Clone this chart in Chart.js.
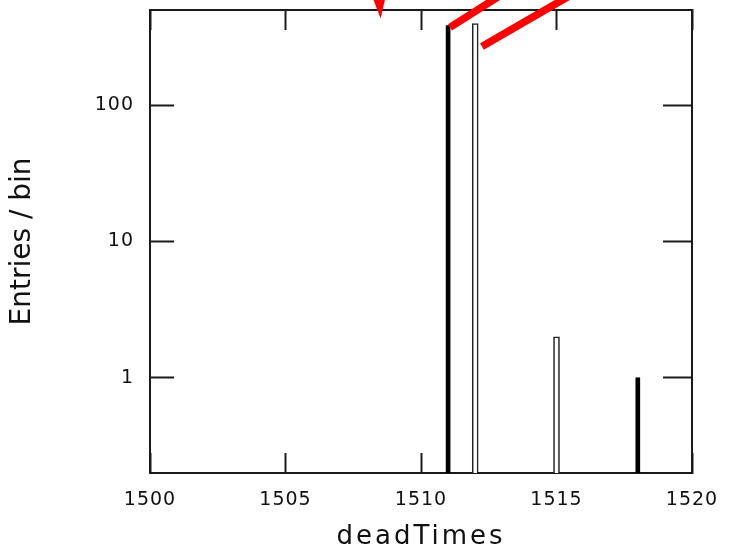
<!DOCTYPE html>
<html>
<head>
<meta charset="utf-8">
<script src="https://cdn.jsdelivr.net/npm/chart.js@4.4.1/dist/chart.umd.min.js"></script>
<style>
html,body{margin:0;padding:0;background:#fff;}
#wrap{width:729px;height:550px;position:relative;}
</style>
</head>
<body>
<div id="wrap"><canvas id="c"></canvas></div>
<script>
// ---- data ----
const filledBins = [1511, 1518];
const filledCounts = [384, 1];
const outlineBins = [1512, 1515];
const outlineCounts = [398, 2];
const xTickValues = [1500, 1505, 1510, 1515, 1520];
const xTickLabels = ['1500', '1505', '1510', '1515', '1520'];
const yTickValues = [1, 10, 100];
const yTickLabels = ['1', '10', '100'];
const xRange = [1500, 1520];
const yRange = [0.2, 500];
const xTitle = 'deadTimes';
const yTitle = 'Entries / bin';

// red hand-drawn annotation marks, in data coordinates (x, y)
const redStrokes = [
  [[1511.07, 373], [1513.1, 673]],
  [[1512.25, 270], [1515.7, 673]]
];
const redHead = [[1508.21, 620], [1508.69, 620], [1508.51, 434]];

const ink = '#1a1a1a';
Chart.defaults.font.family = "'DejaVu Sans', 'Liberation Sans', sans-serif";
Chart.defaults.color = '#111';

const textSpacing = {
  id: 'textSpacing',
  beforeDraw(chart) {
    chart.ctx.letterSpacing = '1px';
    [['x', '3px'], ['y', '0px']].forEach(([id, sp]) => {
      const s = chart.scales[id];
      if (s && !s.__wrapped) {
        const orig = s.drawTitle;
        s.drawTitle = function (...args) {
          const c = this.ctx; const prev = c.letterSpacing;
          c.letterSpacing = sp; orig.apply(this, args); c.letterSpacing = prev;
        };
        s.__wrapped = true;
      }
    });
  }
};

const redMarks = {
  id: 'redMarks',
  afterDraw(chart) {
    const { ctx } = chart; const x = chart.scales.x; const y = chart.scales.y;
    ctx.save();
    ctx.strokeStyle = '#ff0000'; ctx.fillStyle = '#ff0000';
    ctx.lineWidth = 7.5; ctx.lineCap = 'butt';
    redStrokes.forEach(seg => {
      ctx.beginPath();
      ctx.moveTo(x.getPixelForValue(seg[0][0]), y.getPixelForValue(seg[0][1]));
      ctx.lineTo(x.getPixelForValue(seg[1][0]), y.getPixelForValue(seg[1][1]));
      ctx.stroke();
    });
    ctx.beginPath();
    redHead.forEach((p, i) => {
      const px = x.getPixelForValue(p[0]), py = y.getPixelForValue(p[1]);
      if (i === 0) ctx.moveTo(px, py); else ctx.lineTo(px, py);
    });
    ctx.closePath(); ctx.fill();
    ctx.restore();
  }
};

const tickFont = { size: 19, lineHeight: 1.2 };
function setTicks(values) { return s => { s.ticks = values.map(v => ({ value: v })); }; }
function fitTo(dim, size) {
  return s => {
    s[dim] = size;
    s.paddingTop = 0; s.paddingBottom = 0; s.paddingLeft = 0; s.paddingRight = 0;
  };
}

new Chart(document.getElementById('c'), {
  type: 'bar',
  data: {
    datasets: [
      {
        label: 'filled',
        data: filledBins.map((b, i) => ({ x: b, y: filledCounts[i] })),
        backgroundColor: '#000', borderWidth: 0,
        barThickness: 4, grouped: false
      },
      {
        label: 'outline',
        data: outlineBins.map((b, i) => ({ x: b, y: outlineCounts[i] })),
        backgroundColor: '#fff', borderColor: '#222', borderWidth: 1.6,
        barThickness: 6, grouped: false
      }
    ]
  },
  options: {
    responsive: true, maintainAspectRatio: false, animation: false, devicePixelRatio: 1,
    layout: { padding: { top: 10, right: 37, left: 0, bottom: 0 } },
    plugins: { legend: { display: false }, tooltip: { enabled: false } },
    scales: {
      x: {
        type: 'linear', position: 'bottom', min: xRange[0], max: xRange[1], bounds: 'data', offset: false,
        afterBuildTicks: setTicks(xTickValues),
        afterFit: fitTo('height', 77),
        ticks: { font: tickFont, color: '#111', padding: 36, maxRotation: 0, autoSkip: false,
                 callback: (v, i) => xTickLabels[i] },
        grid: { offset: false, drawOnChartArea: false, drawTicks: true, tickLength: -20, tickWidth: 2, tickColor: ink },
        border: { display: true, color: ink, width: 2 },
        title: { display: true, text: xTitle, font: { size: 26, lineHeight: 1 }, color: '#111',
                 padding: { top: 0, bottom: 0 } }
      },
      x2: {
        type: 'linear', position: 'top', min: xRange[0], max: xRange[1], bounds: 'data', offset: false,
        afterBuildTicks: setTicks(xTickValues),
        afterFit: fitTo('height', 0),
        ticks: { display: false },
        grid: { offset: false, drawOnChartArea: false, drawTicks: true, tickLength: -20, tickWidth: 2, tickColor: ink },
        border: { display: true, color: ink, width: 2 }
      },
      y: {
        type: 'logarithmic', position: 'left', min: yRange[0], max: yRange[1], bounds: 'data',
        afterBuildTicks: setTicks(yTickValues),
        afterFit: fitTo('width', 150),
        ticks: { font: tickFont, color: '#111', padding: 40, autoSkip: false,
                 callback: (v, i) => yTickLabels[i] },
        grid: { drawOnChartArea: false, drawTicks: true, tickLength: -24, tickWidth: 2, tickColor: ink },
        border: { display: true, color: ink, width: 2 },
        title: { display: true, text: yTitle, font: { size: 28, lineHeight: 1.2 }, color: '#111',
                 padding: { top: 6, bottom: 0 } }
      },
      y2: {
        type: 'logarithmic', position: 'right', min: yRange[0], max: yRange[1], bounds: 'data',
        afterBuildTicks: setTicks(yTickValues),
        afterFit: fitTo('width', 0),
        ticks: { display: false },
        grid: { drawOnChartArea: false, drawTicks: true, tickLength: -29, tickWidth: 2, tickColor: ink },
        border: { display: true, color: ink, width: 2 }
      }
    }
  },
  plugins: [textSpacing, redMarks]
});
</script>
</body>
</html>
